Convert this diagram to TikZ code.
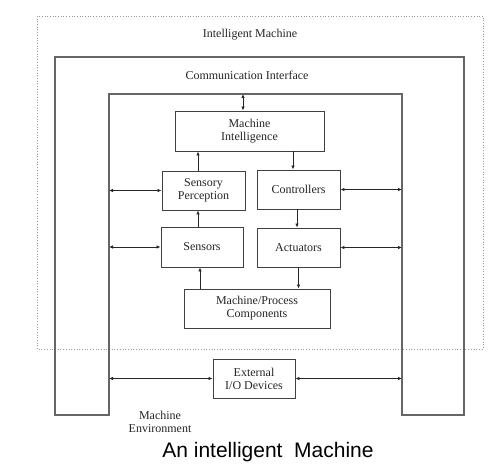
\documentclass[tikz,border=0pt]{standalone}
\usepackage{fontspec}
\setmainfont{Liberation Serif}
\newfontfamily\capfont{Liberation Sans}
\usetikzlibrary{arrows.meta,calc}
\begin{document}
\begin{tikzpicture}[x=1pt,y=-1pt,
 box/.style={draw=black!75,line width=0.9pt,fill=white,align=center,inner sep=0pt,text=black!85,font=\fontsize{12}{13}\selectfont},
 lbl/.style={align=center,font=\fontsize{12}{13}\selectfont,text=black!85},
 wall/.style={draw=black!60,line width=1.3pt},
 conn/.style={draw=black!85,line width=0.8pt,-{Latex[length=4pt,width=3.5pt]}},
 dconn/.style={draw=black!85,line width=0.8pt,{Latex[length=4pt,width=3.5pt]}-{Latex[length=4pt,width=3.5pt]}}]
\useasboundingbox (0,0) rectangle (500,470);
\fill[white] (0,0) rectangle (500,470);
% outer dotted boundary
\draw[black!40,dotted,line width=0.7pt] (37,16) rectangle (483,349);
% communication interface walls
\draw[wall] (55,415) -- (55,57) -- (464,57) -- (464,415) -- (402,415) -- (402,94) -- (109,94) -- (109,415) -- cycle;
\coordinate (wl) at (109,94);
\coordinate (wr) at (402,94);
% labels
\node[lbl] (tim) at (250,35) {Intelligent Machine};
\node[lbl] (tci) at (247,75) {Communication Interface};
\node[lbl] (tenv) at (160,422) {Machine\\Environment};
\node[font=\capfont\fontsize{21}{24}\selectfont,text=black] (cap) at (268,452) {An intelligent\ \ Machine};
% boxes
\node[box,minimum width=149pt,minimum height=40pt] (MI) at (249.5,131) {Machine\\Intelligence};
\node[box,minimum width=83pt,minimum height=39pt] (SP) at (203.5,190.5) {Sensory\\Perception};
\node[box,minimum width=83pt,minimum height=39pt] (Ctrl) at (298.5,189.5) {Controllers};
\node[box,minimum width=82pt,minimum height=40pt] (Sen) at (202,247) {Sensors};
\node[box,minimum width=83pt,minimum height=39pt] (Act) at (298.5,247.5) {Actuators};
\node[box,minimum width=146pt,minimum height=39pt] (MPC) at (257,308.5) {Machine/Process\\Components};
\node[box,minimum width=82pt,minimum height=39pt] (Ext) at (254,378.5) {External\\I/O Devices};
% connectors
\draw[dconn] ([xshift=-6.5pt]MI.north |- wl) -- ([xshift=-6.5pt]MI.north);
\draw[conn] ([xshift=-5.5pt]SP.north) -- ([xshift=-5.5pt]SP.north |- MI.south);
\draw[conn] ([xshift=-5.5pt]Ctrl.north |- MI.south) -- ([xshift=-5.5pt]Ctrl.north);
\draw[conn] ([xshift=-4pt]Sen.north) -- ([xshift=-4pt]Sen.north |- SP.south);
\draw[conn] ([xshift=-1.5pt]Ctrl.south) -- ([xshift=-1.5pt]Ctrl.south |- Act.north);
\draw[conn] ([xshift=-2pt]Sen.south |- MPC.north) -- ([xshift=-2pt]Sen.south);
\draw[conn] (Act.south) -- (Act.south |- MPC.north);
\draw[dconn] (SP.west -| wl) -- (SP.west);
\draw[dconn] (Sen.west -| wl) -- (Sen.west);
\draw[dconn] (Ctrl.east) -- (Ctrl.east -| wr);
\draw[dconn] (Act.east) -- (Act.east -| wr);
\draw[dconn] (Ext.west -| wl) -- (Ext.west);
\draw[dconn] (Ext.east) -- (Ext.east -| wr);
\end{tikzpicture}
\end{document}
